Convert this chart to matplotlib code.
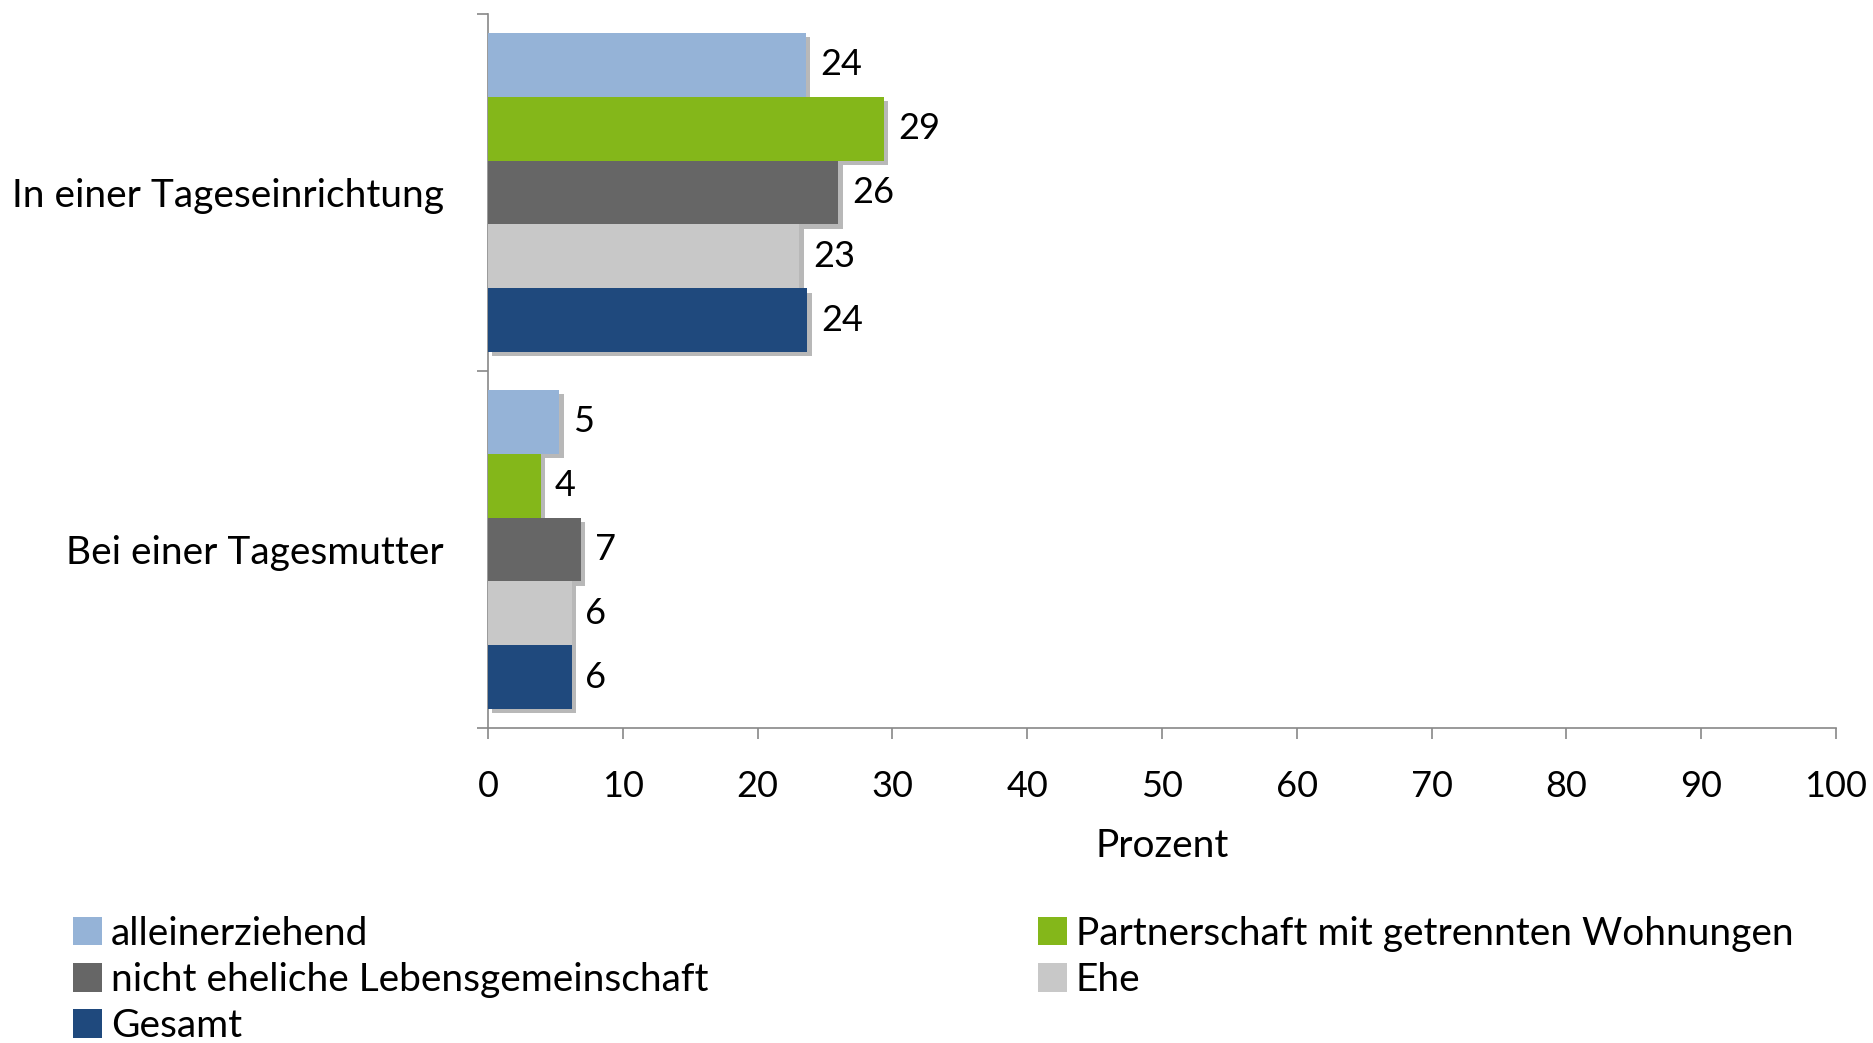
import matplotlib
matplotlib.use("Agg")
import matplotlib.pyplot as plt
import matplotlib.patheffects as pe
import numpy as np

plt.rcParams['font.family'] = ['Lato', 'DejaVu Sans']

categories = ["In einer Tageseinrichtung", "Bei einer Tagesmutter"]
series_names = ["alleinerziehend", "Partnerschaft mit getrennten Wohnungen",
                "nicht eheliche Lebensgemeinschaft", "Ehe", "Gesamt"]
values = {
    "alleinerziehend": [23.6, 5.3],
    "Partnerschaft mit getrennten Wohnungen": [29.4, 3.9],
    "nicht eheliche Lebensgemeinschaft": [26.0, 6.9],
    "Ehe": [23.1, 6.2],
    "Gesamt": [23.7, 6.2],
}
colors = ["#95B3D7", "#84B71A", "#666666", "#C8C8C8", "#1F497D"]
xticks = list(range(0, 101, 10))

TXT = 28
NUM = 26

fig = plt.figure(figsize=(18.74, 10.43), dpi=100)
ax = fig.add_axes([0.2604, 0.302, 0.9797 - 0.2604, 0.9866 - 0.302])

h = 0.179
y = np.arange(len(categories))
handles = {}
for i, name in enumerate(series_names):
    bars = ax.barh(y + (i - 2) * h, values[name], height=h, color=colors[i],
                   label=name, zorder=3)
    for b in bars:
        b.set_path_effects([pe.SimplePatchShadow(offset=(3, -3), shadow_rgbFace='black', alpha=0.28),
                            pe.Normal()])
    ax.bar_label(bars, labels=[f"{v:.0f}" for v in values[name]], padding=10,
                 fontsize=NUM, color='black')
    handles[name] = bars

ax.set_ylim(len(categories) - 0.5, -0.5)
ax.set_xlim(0, 100)
ax.set_xticks(xticks)
ax.set_xticklabels([str(t) for t in xticks], fontsize=NUM)
ax.set_yticks(y)
ax.set_yticklabels(categories, fontsize=TXT)
ax.set_yticks(np.arange(-0.5, len(categories), 1.0), minor=True)
ax.tick_params(axis='y', which='major', length=0, pad=32)
ax.tick_params(axis='y', which='minor', length=8, color='#888888', width=1.2)
ax.tick_params(axis='x', which='major', length=8, color='#888888', width=1.2, pad=22)
ax.set_xlabel("Prozent", fontsize=TXT, labelpad=18)

for s in ['top', 'right']:
    ax.spines[s].set_visible(False)
for s in ['left', 'bottom']:
    ax.spines[s].set_color('#888888')
    ax.spines[s].set_linewidth(1.2)

leg1_names = ["alleinerziehend", "nicht eheliche Lebensgemeinschaft", "Gesamt"]
leg2_names = ["Partnerschaft mit getrennten Wohnungen", "Ehe"]
kw = dict(frameon=False, fontsize=TXT, handlelength=0.75, handleheight=0.75,
          handletextpad=0.22, labelspacing=0.26, borderaxespad=0, borderpad=0)
l1 = fig.legend([handles[n] for n in leg1_names], leg1_names, loc='upper left',
                bbox_to_anchor=(0.039, 0.122), **kw)
l2 = fig.legend([handles[n] for n in leg2_names], leg2_names, loc='upper left',
                bbox_to_anchor=(0.554, 0.122), **kw)
for leg in (l1, l2):
    for p in leg.get_patches():
        p.set_path_effects([])

fig.savefig("out.png", dpi=100)
